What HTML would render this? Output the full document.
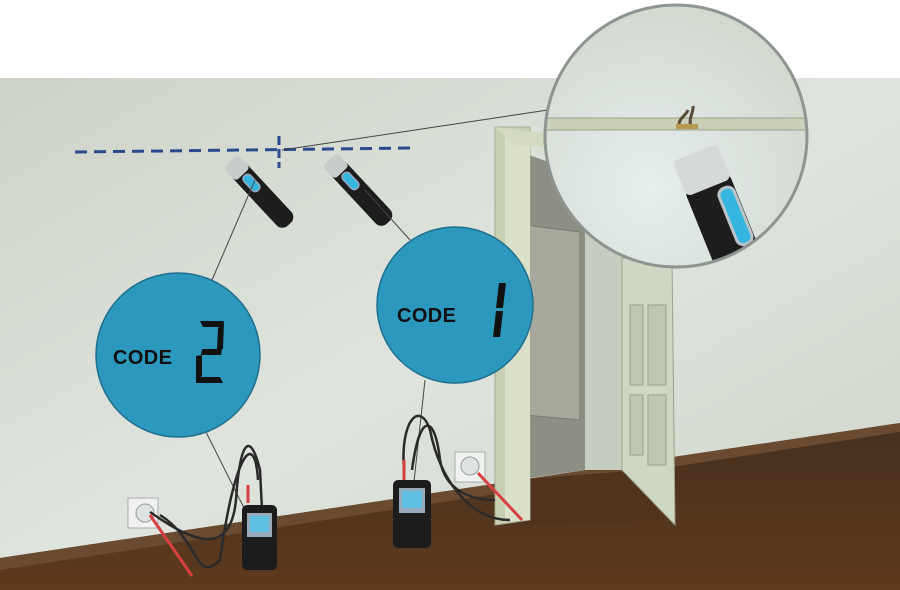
<!DOCTYPE html>
<html><head><meta charset="utf-8"><style>html,body{margin:0;padding:0;background:#fff}svg{display:block}</style></head><body>
<svg width="900" height="590" viewBox="0 0 900 590" xmlns="http://www.w3.org/2000/svg" font-family="Liberation Sans, sans-serif">
<defs>
<linearGradient id="wall" x1="0" y1="0" x2="1" y2="1"><stop offset="0" stop-color="#cdd3c7"/><stop offset="0.5" stop-color="#dfe5de"/><stop offset="1" stop-color="#cdd3c6"/></linearGradient>
<linearGradient id="floor" x1="0" y1="0" x2="0" y2="1"><stop offset="0" stop-color="#45301f"/><stop offset="1" stop-color="#5e3a1e"/></linearGradient>
<radialGradient id="mag" cx="0.4" cy="0.7" r="0.7"><stop offset="0" stop-color="#e6eeee"/><stop offset="1" stop-color="#d2d9cf"/></radialGradient>
<clipPath id="mc"><circle cx="676" cy="136" r="131"/></clipPath>
<g id="probe">
<rect x="-10" y="-40" width="20" height="80" rx="8" fill="#1d1d1d"/>
<rect x="-10" y="-46" width="20" height="18" rx="4" fill="#c8ccca"/>
<rect x="-4" y="-26" width="9" height="20" rx="4" fill="#35b6e0" stroke="#9ab" stroke-width="1.5"/>
</g>
</defs>
<rect width="900" height="590" fill="#fff"/>
<rect x="0" y="78" width="900" height="512" fill="url(#wall)"/>
<polygon points="0,558 900,423 900,590 0,590" fill="url(#floor)"/>
<polygon points="0,558 900,423 900,432 0,570" fill="#6b4a32"/>
<polygon points="515,150 585,175 585,470 515,480" fill="#8d8f84"/>
<polygon points="525,225 580,232 580,420 525,415" fill="#a5a89a" stroke="#7a7c70"/>
<polygon points="585,175 630,195 630,470 585,470" fill="#c6ccc0"/>
<polygon points="515,480 640,470 660,520 515,525" fill="#4f331f"/>
<polygon points="495,127 530,127 530,520 495,525" fill="#c8d0b4" stroke="#a4ac90"/>
<polygon points="505,137 530,137 530,520 505,522" fill="#dbe1c8"/>
<polygon points="495,127 600,140 600,150 515,145" fill="#d3dac0"/>
<polygon points="622,258 672,258 675,525 622,470" fill="#cfd6c2" stroke="#9aa28a"/>
<rect x="630" y="305" width="13" height="80" fill="#bfc7b0" stroke="#98a08a"/>
<rect x="648" y="305" width="18" height="80" fill="#bfc7b0" stroke="#98a08a"/>
<rect x="630" y="395" width="13" height="60" fill="#bfc7b0" stroke="#98a08a"/>
<rect x="648" y="395" width="18" height="70" fill="#bfc7b0" stroke="#98a08a"/>
<line x1="75" y1="152" x2="412" y2="148" stroke="#2b4a8e" stroke-width="3" stroke-dasharray="12,7"/>
<line x1="279" y1="136" x2="279" y2="168" stroke="#2b4a8e" stroke-width="3" stroke-dasharray="9,4"/>
<line x1="282" y1="150" x2="548" y2="110" stroke="#444" stroke-width="1"/>
<use href="#probe" transform="translate(262,195) rotate(-43)"/>
<use href="#probe" transform="translate(361,193) rotate(-43)"/>
<line x1="255" y1="180" x2="212" y2="280" stroke="#444"/>
<line x1="365" y1="190" x2="410" y2="240" stroke="#444"/>
<line x1="205" y1="430" x2="250" y2="520" stroke="#444"/>
<line x1="425" y1="380" x2="412" y2="500" stroke="#444"/>
<circle cx="178" cy="355" r="82" fill="#2d98bd" stroke="#1f6f8e" stroke-width="1.5"/>
<text x="113" y="364" font-size="20" font-weight="bold" fill="#111" textLength="59">CODE</text>
<g fill="#111">
<polygon points="200,321 224,321 221,327 203,327"/>
<polygon points="218,328 224,322 223,349 217,349"/>
<polygon points="202,349 222,349 221,355 201,355"/>
<polygon points="196,356 202,355 202,376 196,382"/>
<polygon points="198,377 220,377 223,383 196,383"/>
</g>
<circle cx="455" cy="305" r="78" fill="#2d98bd" stroke="#1f6f8e" stroke-width="1.5"/>
<text x="397" y="322" font-size="20" font-weight="bold" fill="#111" textLength="59">CODE</text>
<polygon points="499,283 506,283 503,308 496,308" fill="#111"/>
<polygon points="496,311 503,311 500,337 493,337" fill="#111"/>
<rect x="128" y="498" width="30" height="30" fill="#f0f2f0" stroke="#aaa"/>
<circle cx="145" cy="513" r="9" fill="#dfe3e3" stroke="#999"/>
<rect x="455" y="452" width="30" height="30" fill="#f0f2f0" stroke="#aaa"/>
<circle cx="470" cy="466" r="9" fill="#dfe3e3" stroke="#999"/>
<g fill="none" stroke="#2a2a2a" stroke-width="2.5">
<path d="M150,512 C190,540 230,560 236,500 C240,440 250,430 260,470 L262,510"/>
<path d="M160,515 C200,540 195,585 220,560 C235,450 255,430 258,480"/>
<path d="M404,470 C400,420 420,400 430,430 C440,480 470,520 510,520"/>
<path d="M412,470 C420,410 435,415 440,460 C445,490 470,500 495,500"/>
</g>
<g stroke="#d84040" stroke-width="3"><line x1="150" y1="515" x2="192" y2="576"/><line x1="478" y1="473" x2="522" y2="520"/><line x1="248" y1="485" x2="248" y2="503"/><line x1="404" y1="460" x2="404" y2="480"/></g>
<rect x="242" y="505" width="35" height="65" rx="5" fill="#1c1c1c"/>
<rect x="247" y="513" width="25" height="24" fill="#9ab"/><rect x="250" y="516" width="19" height="16" fill="#5fc0e4"/>
<rect x="393" y="480" width="38" height="68" rx="5" fill="#1c1c1c"/>
<rect x="399" y="488" width="26" height="25" fill="#9ab"/><rect x="402" y="491" width="20" height="17" fill="#5fc0e4"/>
<g clip-path="url(#mc)">
<circle cx="676" cy="136" r="131" fill="url(#mag)"/>
<rect x="540" y="118" width="300" height="12" fill="#c9d0b5" stroke="#9aa08a"/>
<path d="M679,127 C678,118 686,116 688,110 M691,127 C688,118 694,112 693,106" stroke="#5a4a35" stroke-width="3" fill="none"/>
<rect x="676" y="124" width="22" height="5" fill="#b79a50"/>
<g transform="translate(718,210) rotate(-22)">
<rect x="-24" y="-30" width="48" height="110" rx="6" fill="#1d1d1d"/>
<rect x="-24" y="-62" width="48" height="38" rx="6" fill="#d5d9d8"/>
<rect x="6" y="-18" width="16" height="60" rx="7" fill="#35b6e0" stroke="#b9c5c8" stroke-width="3"/>
</g>
</g>
<circle cx="676" cy="136" r="131" fill="none" stroke="#8e9590" stroke-width="3"/>
</svg>
</body></html>
